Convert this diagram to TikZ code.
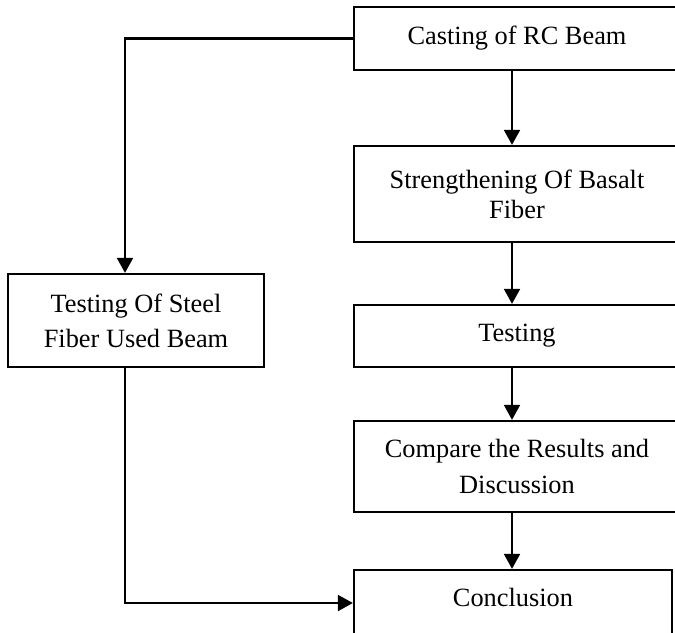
\documentclass[tikz,border=0pt]{standalone}
\usepackage{fontspec}
\setmainfont{Liberation Serif}
\usetikzlibrary{positioning,arrows.meta}

\begin{document}
\begin{tikzpicture}[
        x=0.02cm, y=-0.02cm,
        box/.style={rectangle, draw, line width=1.3pt, align=center, inner sep=0pt, font=\fontsize{15}{17}\selectfont},
        arr/.style={draw, line width=1.3pt, -{Triangle[width=9pt,length=8.5pt]}}
    ]
        \clip (0,0) rectangle (675,632);

        % Define boxes
        \node[box, minimum width=6.52cm, minimum height=1.26cm] (cast) at (517,38.5) {Casting of RC Beam};
        \node[box, minimum width=6.52cm, minimum height=1.92cm] (streng) at (517,194) {Strengthening Of Basalt\\Fiber};
        \node[box, minimum width=6.52cm, minimum height=1.24cm] (test) at (517,336) {Testing};
        \node[box, minimum width=6.52cm, minimum height=1.82cm, font=\fontsize{15}{20}\selectfont] (comp) at (517,466.5) {Compare the Results and\\Discussion};
        \node[box, minimum width=6.36cm, minimum height=1.32cm, text depth=0.24cm] (concl) at (513,603) {Conclusion};
        \node[box, minimum width=5.12cm, minimum height=1.86cm, font=\fontsize{15}{20}\selectfont] (steel) at (136,320.5) {Testing Of Steel\\Fiber Used Beam};

        % Helper coordinates
        \coordinate (mid) at (512,0);
        \coordinate (lft) at (125,0);

        % Main flow
        \draw[arr] (cast.south -| mid) -- (streng.north -| mid);
        \draw[arr] (streng.south -| mid) -- (test.north -| mid);
        \draw[arr] (test.south -| mid) -- (comp.north -| mid);
        \draw[arr] (comp.south -| mid) -- (concl.north -| mid);

        % Side branch
        \draw[arr] (cast.west) -| (lft |- steel.north);
        \draw[arr] (lft |- steel.south) |- (concl.west);

    \end{tikzpicture}
\end{document}
